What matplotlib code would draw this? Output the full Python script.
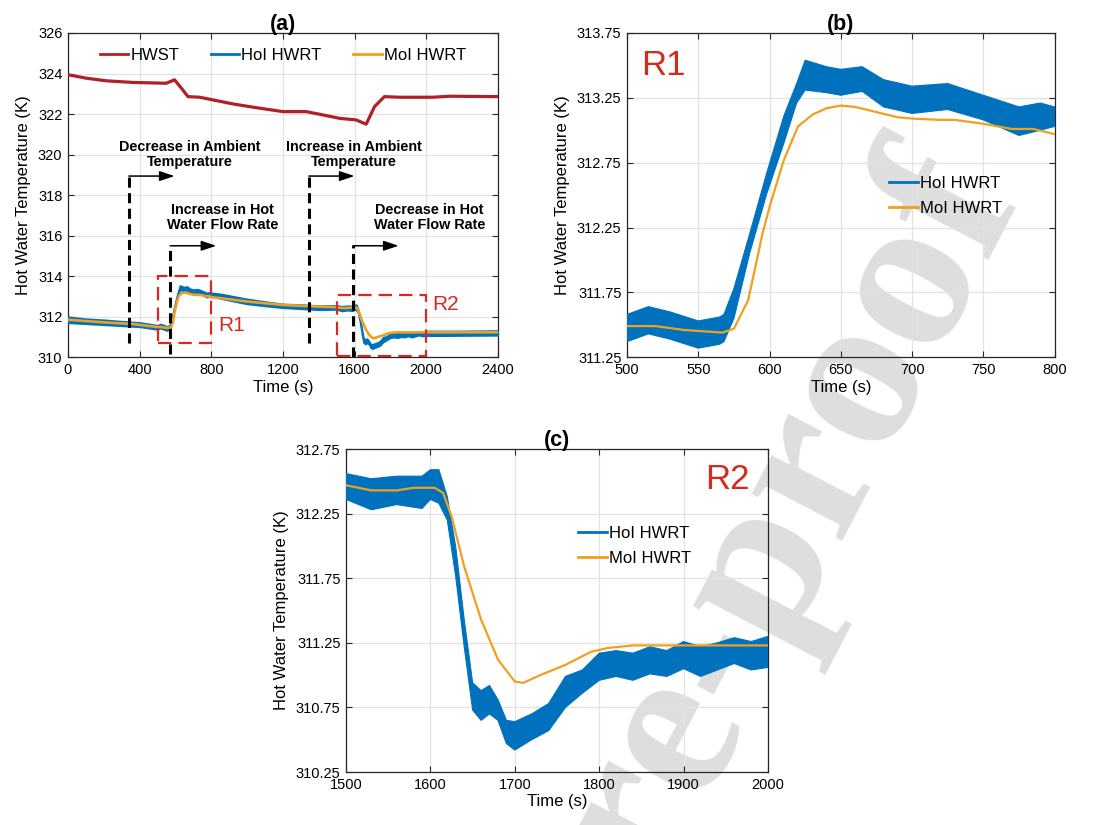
import matplotlib
matplotlib.use("Agg")
import matplotlib.pyplot as plt
from matplotlib.patches import Rectangle
from matplotlib.lines import Line2D

plt.rcParams['font.family'] = ['Liberation Sans', 'DejaVu Sans']

# ---- data -------------------------------------------------------------
# Hot water supply temperature (HWST)
hwst_t = [0, 102, 214, 363, 549, 595, 633, 670, 735, 809, 921, 1033, 1200,
          1330, 1405, 1516, 1609, 1665, 1712, 1767, 1851, 2037, 2130, 2400]
hwst_T = [323.94, 323.77, 323.64, 323.56, 323.52, 323.69, 323.28, 322.86,
          322.83, 322.70, 322.50, 322.34, 322.12, 322.12, 321.99, 321.79,
          321.71, 321.50, 322.37, 322.86, 322.83, 322.83, 322.88, 322.86]

# HoI hot water return temperature: lower / upper envelope of the measured band
hoi_t = [0, 100, 200, 300, 400, 500, 515, 530, 550, 565, 568, 575, 586, 598,
         610, 619, 625, 640, 650, 665, 680, 700, 725, 750, 775, 790, 800,
         850, 1000, 1100, 1200, 1300, 1400, 1500, 1530, 1560, 1590, 1600,
         1610, 1620, 1630, 1640, 1650, 1660, 1670, 1680, 1690, 1700, 1720,
         1740, 1760, 1780, 1800, 1820, 1840, 1860, 1880, 1900, 1920, 1940,
         1960, 1980, 2000, 2200, 2400]
hoi_hi = [312.00, 311.90, 311.85, 311.78, 311.72, 311.58, 311.64, 311.60,
          311.53, 311.56, 311.58, 311.78, 312.20, 312.67, 313.11, 313.36,
          313.54, 313.49, 313.47, 313.49, 313.39, 313.34, 313.36, 313.27,
          313.18, 313.21, 313.18, 313.13, 312.88, 312.75, 312.63, 312.60,
          312.55, 312.56, 312.52, 312.54, 312.54, 312.59, 312.59, 312.38,
          311.99, 311.43, 310.94, 310.88, 310.92, 310.81, 310.65, 310.64,
          310.70, 310.78, 310.99, 311.04, 311.17, 311.19, 311.17, 311.22,
          311.19, 311.26, 311.22, 311.25, 311.29, 311.26, 311.30, 311.30,
          311.32]
hoi_lo = [311.70, 311.65, 311.60, 311.55, 311.50, 311.37, 311.43, 311.39,
          311.32, 311.35, 311.37, 311.55, 312.05, 312.51, 312.90, 313.21,
          313.31, 313.29, 313.27, 313.30, 313.18, 313.13, 313.16, 313.08,
          312.96, 313.00, 313.03, 312.90, 312.63, 312.53, 312.44, 312.39,
          312.34, 312.36, 312.28, 312.32, 312.29, 312.36, 312.33, 312.20,
          311.76, 311.22, 310.73, 310.65, 310.70, 310.65, 310.47, 310.42,
          310.50, 310.57, 310.75, 310.86, 310.96, 310.99, 310.96, 311.01,
          310.99, 311.05, 310.99, 311.04, 311.09, 311.04, 311.06, 311.07,
          311.08]

# MoI hot water return temperature
moi_t = [0, 200, 363, 500, 520, 540, 567, 575, 585, 595, 600, 610, 620, 630,
         640, 650, 660, 675, 690, 700, 720, 730, 750, 770, 785, 800, 1000,
         1200, 1400, 1500, 1530, 1560, 1580, 1605, 1615, 1625, 1640, 1660,
         1680, 1700, 1710, 1730, 1760, 1790, 1810, 1840, 1900, 2000, 2400]
moi_T = [311.85, 311.72, 311.64, 311.49, 311.49, 311.46, 311.44, 311.47,
         311.69, 312.20, 312.41, 312.77, 313.03, 313.12, 313.17, 313.19,
         313.18, 313.14, 313.10, 313.09, 313.08, 313.08, 313.05, 313.01,
         313.01, 312.97, 312.75, 312.58, 312.50, 312.47, 312.43, 312.43,
         312.45, 312.45, 312.41, 312.23, 311.84, 311.43, 311.12, 310.95,
         310.94, 311.00, 311.08, 311.18, 311.21, 311.23, 311.23, 311.23,
         311.23]

# event markers: (dashed line time, bottom, top, arrow end, label, label x, label y)
events = [
    (340, 310.69, 318.99, 595, "Decrease in Ambient\nTemperature", 679, 320.0),
    (571, 310.16, 315.55, 828, "Increase in Hot\nWater Flow Rate", 865, 316.9),
    (1345, 310.69, 318.99, 1600, "Increase in Ambient\nTemperature", 1594, 320.0),
    (1594, 310.0, 315.55, 1846, "Decrease in Hot\nWater Flow Rate", 2019, 316.9),
]
# zoom regions (t0, t1, T0, T1, label)
regions = [(500, 800, 310.7, 314.0, "R1"), (1500, 2000, 310.05, 313.05, "R2")]

BLUE = '#0072BD'
ORANGE = '#F0A01E'
DRED = '#B11F27'
RED = '#D52B1E'
GRID = '#E2E2E2'

fig = plt.figure(figsize=(11.02, 8.25), dpi=100, facecolor='white')

# background watermark
fig.text(0.523, -0.132, "Journal Pre-proof", rotation=62.5, rotation_mode='anchor',
         ha='center', va='center', fontsize=160, family='Liberation Serif',
         fontweight='bold', color='#DEDEDE', zorder=0)

ax_a = fig.add_axes([0.0617, 0.567, 0.390, 0.393])
ax_b = fig.add_axes([0.569, 0.567, 0.388, 0.393])
ax_c = fig.add_axes([0.314, 0.0642, 0.383, 0.3915])


def style(ax):
    ax.set_facecolor('none')
    ax.set_zorder(1)
    ax.grid(True, color=GRID, lw=0.9)
    ax.set_axisbelow(True)
    ax.tick_params(direction='in', top=True, right=True, length=4.5,
                   width=0.8, labelsize=10.5, pad=4, color='#262626')
    for s in ax.spines.values():
        s.set_color('#262626')
        s.set_linewidth(0.9)
    ax.set_xlabel('Time (s)', fontsize=12, labelpad=2)
    ax.set_ylabel('Hot Water Temperature (K)', fontsize=12, labelpad=5)


# ---- panel (a) ----------------------------------------------------------
style(ax_a)
ax_a.plot(hwst_t, hwst_T, color=DRED, lw=2.3, solid_joinstyle='round', zorder=3)
ax_a.fill_between(hoi_t, hoi_lo, hoi_hi, color=BLUE, lw=1.2, edgecolor=BLUE, zorder=3)
ax_a.plot(moi_t, moi_T, color=ORANGE, lw=1.9, zorder=4)
for tx, y0, y1, tend, txt, lx, ly in events:
    ax_a.plot([tx, tx], [y0, y1], color='k', ls='--', lw=2.2, dashes=(3.3, 1.8), zorder=5)
    ax_a.annotate('', xy=(tend, y1 - 0.05), xytext=(tx, y1 - 0.05),
                  arrowprops=dict(arrowstyle='-|>,head_length=0.9,head_width=0.3',
                                  color='k', lw=1.1, shrinkA=0, shrinkB=0), zorder=5)
    ax_a.text(lx, ly, txt, ha='center', va='center', fontsize=10.4,
              fontweight='bold', linespacing=1.1, zorder=6)
for t0, t1, T0, T1, lab in regions:
    ax_a.add_patch(Rectangle((t0, T0), t1 - t0, T1 - T0, fill=False, ec=RED,
                             lw=1.6, ls=(0, (6, 3.2)), zorder=6))
ax_a.text(912, 311.56, "R1", color=RED, fontsize=15, ha='center', va='center')
ax_a.text(2110, 312.6, "R2", color=RED, fontsize=15, ha='center', va='center')
ax_a.set_xlim(0, 2400)
ax_a.set_ylim(310, 326)
ax_a.set_xticks(range(0, 2401, 400))
ax_a.set_yticks(range(310, 327, 2))
ax_a.set_title('(a)', fontsize=15.5, fontweight='bold', pad=2)
h = [Line2D([], [], color=DRED, lw=2), Line2D([], [], color=BLUE, lw=2),
     Line2D([], [], color=ORANGE, lw=2)]
ax_a.legend(h, ['HWST', 'HoI HWRT', 'MoI HWRT'], ncol=3, frameon=False,
            loc='upper center', bbox_to_anchor=(0.5, 1.0), fontsize=12,
            handlelength=1.7, handletextpad=0.12, columnspacing=1.9)

# ---- panel (b) ----------------------------------------------------------
style(ax_b)
ax_b.fill_between(hoi_t, hoi_lo, hoi_hi, color=BLUE, lw=0.8, edgecolor=BLUE, zorder=3)
ax_b.plot(moi_t, moi_T, color=ORANGE, lw=1.6, zorder=4)
ax_b.set_xlim(500, 800)
ax_b.set_ylim(311.25, 313.75)
ax_b.set_xticks(range(500, 801, 50))
ax_b.set_yticks([311.25, 311.75, 312.25, 312.75, 313.25, 313.75])
ax_b.set_title('(b)', fontsize=15.5, fontweight='bold', pad=2)
ax_b.text(0.086, 0.90, "R1", transform=ax_b.transAxes, color=RED, fontsize=25,
          ha='center', va='center')
hb = [Line2D([], [], color=BLUE, lw=2), Line2D([], [], color=ORANGE, lw=2)]
ax_b.legend(hb, ['HoI HWRT', 'MoI HWRT'], frameon=False, loc='center left',
            bbox_to_anchor=(0.578, 0.497), fontsize=12, handlelength=1.7,
            handletextpad=0.12, labelspacing=0.6)

# ---- panel (c) ----------------------------------------------------------
style(ax_c)
ax_c.fill_between(hoi_t, hoi_lo, hoi_hi, color=BLUE, lw=0.8, edgecolor=BLUE, zorder=3)
ax_c.plot(moi_t, moi_T, color=ORANGE, lw=1.6, zorder=4)
ax_c.set_xlim(1500, 2000)
ax_c.set_ylim(310.25, 312.75)
ax_c.set_xticks(range(1500, 2001, 100))
ax_c.set_yticks([310.25, 310.75, 311.25, 311.75, 312.25, 312.75])
ax_c.set_title('(c)', fontsize=15.5, fontweight='bold', pad=2)
ax_c.text(0.904, 0.905, "R2", transform=ax_c.transAxes, color=RED, fontsize=25,
          ha='center', va='center')
ax_c.legend(hb, ['HoI HWRT', 'MoI HWRT'], frameon=False, loc='center left',
            bbox_to_anchor=(0.515, 0.70), fontsize=12, handlelength=1.7,
            handletextpad=0.12, labelspacing=0.6)

fig.savefig('out.png', dpi=100, facecolor='white')
